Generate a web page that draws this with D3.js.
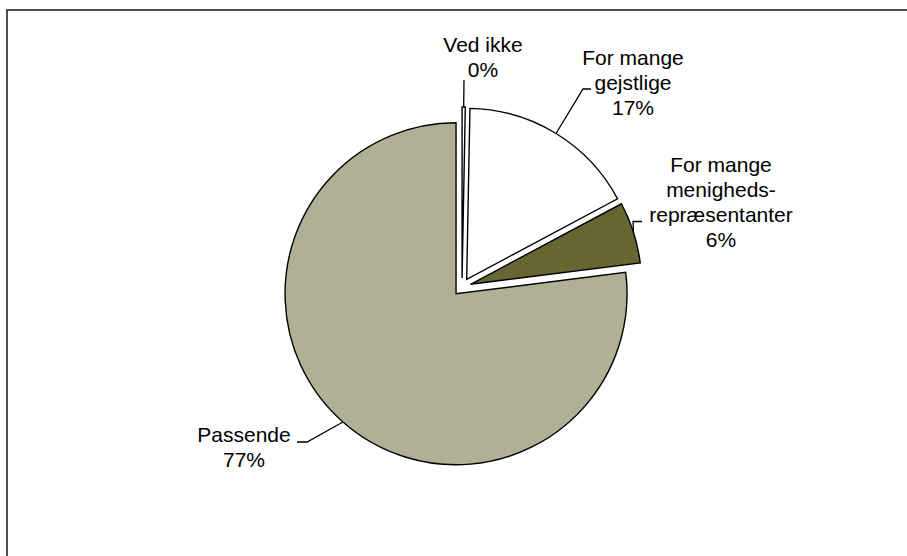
<!DOCTYPE html>
<html>
<head>
<meta charset="utf-8">
<script src="https://cdn.jsdelivr.net/npm/d3@7"></script>
<style>
  html, body { margin: 0; padding: 0; background: #ffffff; }
  svg { display: block; }
</style>
</head>
<body>
<svg id="chart" width="907" height="556"></svg>
<script>
// ---- data ----
const categories = ["Ved ikke", "For mange gejstlige", "For mange menigheds-repræsentanter", "Passende"];
const values = [0.3, 16.9, 5.8, 77];
const labelNames = [["Ved ikke"], ["For mange", "gejstlige"], ["For mange", "menigheds-", "repræsentanter"], ["Passende"]];
const sliceColors = ["#ffffff", "#ffffff", "#666633", "#b0b097"];

// ---- layout ----
const W = 907, H = 556;
const cx = 462, cy = 287, R = 171, explode = 9;
const fontSize = 21, lineH = 25;
// label layout: text centre x, first baseline y, leader polyline (from arc point -> elbow -> end)
const labelLayout = [
  { x: 483, y: 52, elbow: [464, 80], end: [464, 80] },
  { x: 633, y: 65, elbow: [583, 89], end: [591, 89] },
  { x: 721, y: 171.5, elbow: [633, 221.5], end: [642, 221.5] },
  { x: 244, y: 442, elbow: [307, 442], end: [297, 442] }
];

const svg = d3.select("#chart");

svg.append("rect")
  .attr("x", 7).attr("y", 10)
  .attr("width", 1000).attr("height", 1000)
  .attr("fill", "#ffffff")
  .attr("stroke", "#4f4f4f")
  .attr("stroke-width", 2);

const total = d3.sum(values);
const pie = d3.pie().sort(null).value(d => d).startAngle(0).endAngle(2 * Math.PI);
const arcs = pie(values);
const arc = d3.arc().innerRadius(0).outerRadius(R);

const g = svg.append("g").attr("transform", `translate(${cx},${cy})`);

arcs.forEach((a, i) => {
  const mid = (a.startAngle + a.endAngle) / 2;
  const dx = explode * Math.sin(mid), dy = -explode * Math.cos(mid);
  g.append("path")
    .attr("d", arc(a))
    .attr("transform", `translate(${dx},${dy})`)
    .attr("fill", sliceColors[i])
    .attr("stroke", "#000000")
    .attr("stroke-width", 1.4)
    .attr("stroke-linejoin", "miter");
});

// labels + leader lines
arcs.forEach((a, i) => {
  const mid = (a.startAngle + a.endAngle) / 2;
  const ox = cx + (explode) * Math.sin(mid), oy = cy - (explode) * Math.cos(mid);
  const px = ox + R * Math.sin(mid), py = oy - R * Math.cos(mid);
  const L = labelLayout[i];
  svg.append("polyline")
    .attr("points", [[px, py], L.elbow, L.end].map(p => p.join(",")).join(" "))
    .attr("fill", "none")
    .attr("stroke", "#000000")
    .attr("stroke-width", 1.3);

  const pct = Math.round(values[i] / total * 100) + "%";
  const lines = labelNames[i].concat([pct]);
  const t = svg.append("text")
    .attr("x", L.x).attr("y", L.y)
    .attr("text-anchor", "middle")
    .attr("font-family", "'Liberation Sans', Arial, sans-serif")
    .attr("font-size", fontSize)
    .attr("fill", "#000000");
  lines.forEach((ln, k) => {
    t.append("tspan").attr("x", L.x).attr("y", L.y + k * lineH).text(ln);
  });
});
</script>
</body>
</html>
